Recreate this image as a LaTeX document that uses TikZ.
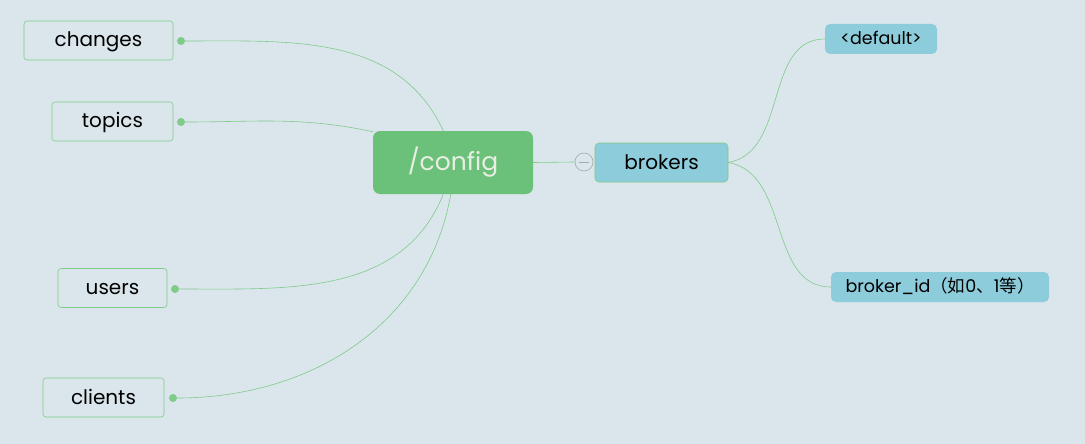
\documentclass[tikz,border=0pt]{standalone}
\usepackage{fontspec}
\setmainfont{Poppins}
\newfontfamily\cjk{Noto Sans CJK SC}
\definecolor{bg}{HTML}{DAE6EC}
\definecolor{lk}{HTML}{7FCB88}
\definecolor{rootfill}{HTML}{6CC17A}
\definecolor{rootink}{HTML}{E8EFE2}
\definecolor{blue}{HTML}{8DCCDB}
\begin{document}
\begin{tikzpicture}
	[x=1pt,y=-1pt,
	leaf/.style={draw=lk, rounded corners=3pt, line width=0.6pt,
		minimum height=39pt, inner sep=0pt, text height=15pt, text depth=2pt,
		font=\fontsize{20}{23}\selectfont},
	root/.style={fill=rootfill, rounded corners=7pt, minimum width=160pt,
		minimum height=63pt, text=rootink, text height=18pt, text depth=3pt,
		font=\fontsize{25}{28}\selectfont},
	sub/.style={fill=blue, rounded corners=5pt, inner sep=0pt,
		minimum height=30pt, text height=13pt, text depth=2pt,
		font=\fontsize{17.5}{20}\selectfont},
	dot/.style={circle, fill=lk, inner sep=0pt, minimum size=8pt},
	link/.style={draw=lk, line width=0.6pt}]

	\useasboundingbox (0,0) rectangle (1085,444);
	\fill[bg] (0,0) rectangle (1085,444);

	% centre
	\node[root] (config) at (453,162.5) {/config};
	\node[leaf, fill=blue, rounded corners=4pt, minimum width=133pt] (brokers) at (661.5,162.5) {brokers};
	\node[circle, draw=black!35, fill=bg, line width=0.6pt, minimum size=18pt, inner sep=0pt] (fold) at (584,162) {};
	\draw[black!35, line width=0.8pt] (fold.west) ++(4,0) -- ++(10,0);

	% left leaves
	\node[leaf, minimum width=149pt] (changes) at (98.5,40.5) {changes};
	\node[leaf, minimum width=121pt] (topics)  at (112.5,121.5) {topics};
	\node[leaf, minimum width=109pt] (users)   at (112.5,288) {users};
	\node[leaf, minimum width=121pt] (clients) at (103.5,397.5) {clients};

	\node[dot] (dchanges) at (181,41)  {};
	\node[dot] (dtopics)  at (181,122) {};
	\node[dot] (dusers)   at (175,289) {};
	\node[dot] (dclients) at (173,398) {};

	% right leaves
	\node[sub, minimum width=112pt] (default) at (881,39) {<default>};
	\node[sub, minimum width=218pt] (brokerid) at (940,287)
		{broker\_id{\cjk（如}0{\cjk 、}1{\cjk 等）}};

	\draw[link] (dchanges) to[out=0, in=115] (config.107);
	\draw[link] (dtopics) to[out=0, in=168] (config.159);
	\draw[link] (dusers) to[out=0, in=-112] (config.253);
	\draw[link] (dclients) to[out=0, in=-100] (config.266);

	\draw[link] (config.east) -- (fold.west);
	\draw[link] (brokers.east) to[out=10, in=180] (default.west);
	\draw[link] (brokers.east) to[out=-10, in=180] (brokerid.west);
\end{tikzpicture}
\end{document}
